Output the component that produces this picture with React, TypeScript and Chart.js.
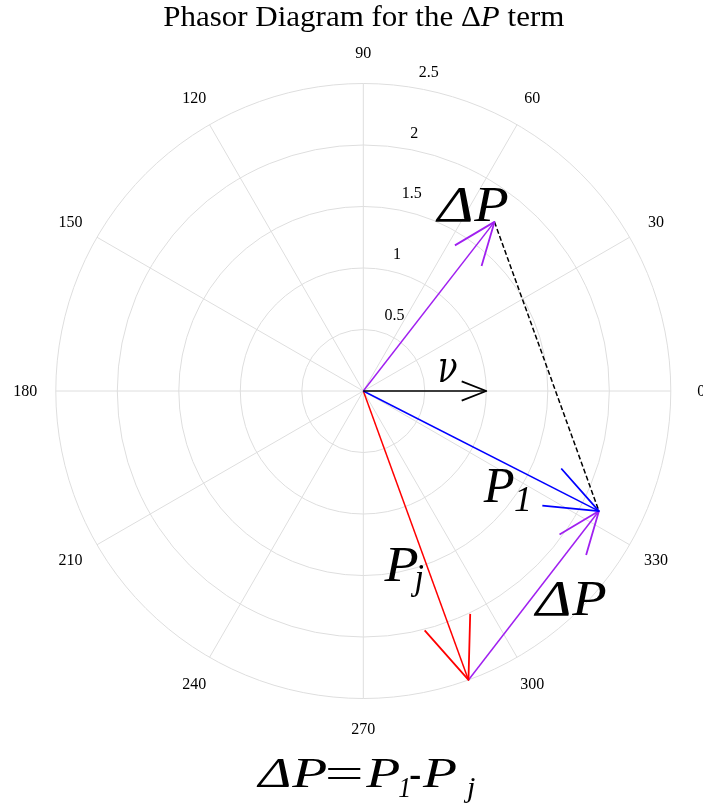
import React, { useEffect, useRef } from "react";
import { Chart, registerables } from "chart.js";

Chart.register(...registerables);

// ---- data (polar: magnitude, angle in degrees) ----
const radialTicks = [0.5, 1, 1.5, 2, 2.5];
const radialTickLabels = ["0.5", "1", "1.5", "2", "2.5"];
const angleTicks = [0, 30, 60, 90, 120, 150, 180, 210, 240, 270, 300, 330];
const angleTickLabels = ["0", "30", "60", "90", "120", "150", "180", "210", "240", "270", "300", "330"];

const arrowNames = ["ν", "P1", "Pj", "ΔP", "ΔP (Pj→P1)"];
const arrowStartMag = [0, 0, 0, 0, 2.5];
const arrowStartAngle = [0, 0, 0, 0, -70];
const arrowEndMag = [1.0, 2.15, 2.5, 1.74, 2.15];
const arrowEndAngle = [0, -27, -70, 52.2, -27];
const arrowColors = ["#000000", "#0000ff", "#ff0000", "#a020f0", "#a020f0"];

const dashedMag = [1.74, 2.15];
const dashedAngle = [52.2, -27];

const rMax = 2.5;

function polar(m: number, deg: number) {
  const a = (deg * Math.PI) / 180;
  return { x: m * Math.cos(a), y: m * Math.sin(a) };
}

function buildDatasets() {
  const ds: any[] = [];
  const headFrac = 0.215;
  const headHalf = (21.5 * Math.PI) / 180;
  arrowNames.forEach((name, i) => {
    const s = polar(arrowStartMag[i], arrowStartAngle[i]);
    const e = polar(arrowEndMag[i], arrowEndAngle[i]);
    const dx = e.x - s.x;
    const dy = e.y - s.y;
    const L = Math.hypot(dx, dy);
    const ang = Math.atan2(dy, dx);
    const hl = headFrac * L;
    const left = { x: e.x - hl * Math.cos(ang + headHalf), y: e.y - hl * Math.sin(ang + headHalf) };
    const right = { x: e.x - hl * Math.cos(ang - headHalf), y: e.y - hl * Math.sin(ang - headHalf) };
    ds.push({
      label: name,
      data: [s, e],
      showLine: true,
      borderColor: arrowColors[i],
      borderWidth: 1.5,
      pointRadius: 0,
      clip: false,
    });
    ds.push({
      label: name + " head",
      data: [left, e, right],
      showLine: true,
      borderColor: arrowColors[i],
      borderWidth: 1.8,
      borderJoinStyle: "round",
      pointRadius: 0,
      clip: false,
    });
  });
  ds.push({
    label: "dashed",
    data: [polar(dashedMag[0], dashedAngle[0]), polar(dashedMag[1], dashedAngle[1])],
    showLine: true,
    borderColor: "#000000",
    borderWidth: 1.5,
    borderDash: [5, 2.5],
    pointRadius: 0,
    clip: false,
  });
  return ds;
}

const SERIF = '"Liberation Serif", "Times New Roman", serif';
const DSERIF = '"DejaVu Serif", serif';

// draw text so that its ink spans [l, r] horizontally
function drawFit(ctx: CanvasRenderingContext2D, text: string, font: string, l: number, r: number, baseline: number) {
  ctx.save();
  ctx.font = font;
  ctx.textAlign = "left";
  ctx.textBaseline = "alphabetic";
  const m = ctx.measureText(text);
  const inkW = m.actualBoundingBoxLeft + m.actualBoundingBoxRight;
  const s = inkW > 0 ? (r - l) / inkW : 1;
  ctx.translate(l + s * m.actualBoundingBoxLeft, baseline);
  ctx.scale(s, 1);
  ctx.fillStyle = "#000";
  ctx.fillText(text, 0, 0);
  ctx.restore();
}

const polarPlugin = {
  id: "polarGrid",
  beforeDatasetsDraw(chart: any) {
    const ctx: CanvasRenderingContext2D = chart.ctx;
    const xs = chart.scales.x;
    const ys = chart.scales.y;
    const cx = xs.getPixelForValue(0);
    const cy = ys.getPixelForValue(0);
    const unit = xs.getPixelForValue(1) - cx;
    ctx.save();
    ctx.strokeStyle = "#dedede";
    ctx.lineWidth = 1;
    radialTicks.forEach((r) => {
      ctx.beginPath();
      ctx.arc(cx, cy, r * unit, 0, Math.PI * 2);
      ctx.stroke();
    });
    angleTicks.forEach((a) => {
      const p = polar(rMax, a);
      ctx.beginPath();
      ctx.moveTo(cx, cy);
      ctx.lineTo(xs.getPixelForValue(p.x), ys.getPixelForValue(p.y));
      ctx.stroke();
    });
    // angle labels
    ctx.fillStyle = "#000";
    ctx.font = `16px ${SERIF}`;
    ctx.textAlign = "center";
    ctx.textBaseline = "middle";
    angleTicks.forEach((a, i) => {
      const p = polar(2.748, a);
      ctx.fillText(angleTickLabels[i], xs.getPixelForValue(p.x), ys.getPixelForValue(p.y) + 1);
    });
    // radial labels
    ctx.textAlign = "left";
    radialTicks.forEach((r, i) => {
      const p = polar(r, 82);
      ctx.fillText(radialTickLabels[i], xs.getPixelForValue(p.x) + 12.7, ys.getPixelForValue(p.y) - 14);
    });
    ctx.restore();
  },
  afterDatasetsDraw(chart: any) {
    const ctx: CanvasRenderingContext2D = chart.ctx;
    const big = `italic 50px ${SERIF}`;
    const sub = `italic 35px ${SERIF}`;
    // title
    ctx.save();
    const runs = [
      { t: "Phasor Diagram for the ", f: `28.5px ${SERIF}` },
      { t: "Δ", f: `28.5px ${SERIF}` },
      { t: "P", f: `italic 28.5px ${SERIF}` },
      { t: " term", f: `28.5px ${SERIF}` },
    ];
    let total = 0;
    runs.forEach((r) => {
      ctx.font = r.f;
      total += ctx.measureText(r.t).width;
    });
    const tl = 163.3, tr = 564.3;
    const sc = (tr - tl) / total;
    ctx.translate(tl, 25.7);
    ctx.scale(sc, 1);
    ctx.fillStyle = "#000";
    ctx.textBaseline = "alphabetic";
    let xx = 0;
    runs.forEach((r) => {
      ctx.font = r.f;
      ctx.fillText(r.t, xx, 0);
      xx += ctx.measureText(r.t).width;
    });
    ctx.restore();

    // vector labels
    drawFit(ctx, "Δ", big, 435, 472, 221);
    drawFit(ctx, "P", big, 473, 508, 221);
    drawFit(ctx, "ν", `italic 44px ${DSERIF}`, 440, 457, 382);
    drawFit(ctx, "P", big, 482.7, 514, 501.7);
    drawFit(ctx, "1", sub, 515, 528.3, 510.7);
    drawFit(ctx, "P", big, 383.3, 418, 580.7);
    drawFit(ctx, "j", sub, 410.7, 423.3, 589);
    drawFit(ctx, "Δ", big, 533.3, 570, 615);
    drawFit(ctx, "P", big, 571, 606, 615);

    // formula
    const fb = `italic 43px ${SERIF}`;
    const fs = `italic 30px ${SERIF}`;
    drawFit(ctx, "Δ", fb, 256, 290, 787.3);
    drawFit(ctx, "P", fb, 291, 327, 787.3);
    drawFit(ctx, "=", `43px ${SERIF}`, 328, 361.7, 787.3);
    drawFit(ctx, "P", fb, 365, 400, 787.3);
    drawFit(ctx, "1", fs, 399, 408.5, 796.5);
    drawFit(ctx, "-", `43px ${SERIF}`, 410, 420, 787.3);
    drawFit(ctx, "P", fb, 421.7, 456.7, 787.3);
    drawFit(ctx, "j", fs, 463, 475, 797);
  },
};

export default function App() {
  const ref = useRef<HTMLCanvasElement | null>(null);
  useEffect(() => {
    document.body.style.margin = "0";
    const canvas = ref.current!;
    const chart = new Chart(canvas, {
      type: "scatter",
      data: { datasets: buildDatasets() },
      options: {
        animation: false,
        responsive: false,
        maintainAspectRatio: false,
        layout: { padding: { left: 55.8, right: 32.2, top: 83.5, bottom: 107.5 } },
        scales: {
          x: { type: "linear", min: -rMax, max: rMax, display: false },
          y: { type: "linear", min: -rMax, max: rMax, display: false },
        },
        plugins: { legend: { display: false }, tooltip: { enabled: false }, title: { display: false } },
        elements: { point: { radius: 0 } },
      } as any,
      plugins: [polarPlugin],
    });
    return () => chart.destroy();
  }, []);
  return (
    <div style={{ width: 703, height: 806, background: "#fff" }}>
      <canvas ref={ref} width={703} height={806} style={{ display: "block", width: 703, height: 806 }} />
    </div>
  );
}
